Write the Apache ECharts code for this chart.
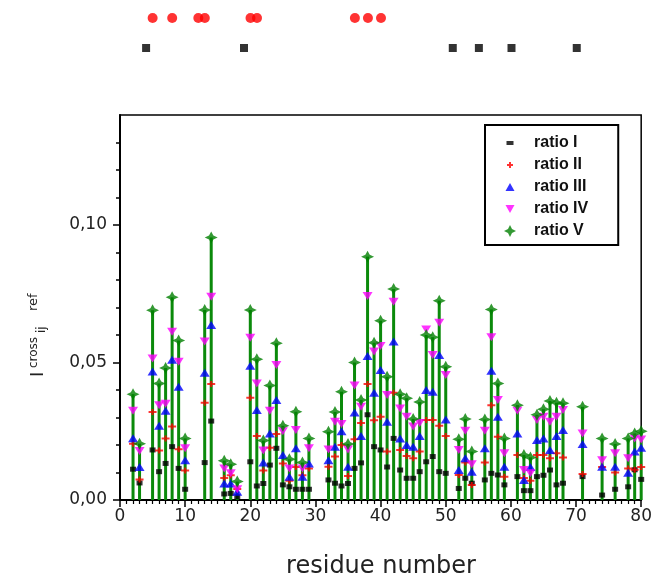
<!DOCTYPE html>
<html><head><meta charset="utf-8">
<script src="https://cdn.jsdelivr.net/npm/echarts@6/dist/echarts.min.js"></script>
<style>html,body{margin:0;padding:0;background:#fff}#c{width:655px;height:580px}</style>
</head><body><div id="c"></div>
<script>
const residues = [2,3,5,6,7,8,9,10,13,14,16,17,18,20,21,22,23,24,25,26,27,28,29,32,33,34,35,36,37,38,39,40,41,42,43,44,45,46,47,48,49,50,52,53,54,56,57,58,59,61,62,63,64,65,66,67,68,71,74,76,78,79,80];
const ratioI   = [.0112,.0062,.0182,.0103,.0133,.0194,.0115,.0039,.0136,.0287,.0022,.0024,.0012,.0139,.0051,.006,.0127,.0188,.0055,.0048,.0039,.0039,.0039,.0073,.0061,.0051,.006,.0115,.0135,.031,.0194,.0182,.012,.0224,.0109,.0079,.0079,.0103,.0139,.0158,.0103,.0097,.0042,.0079,.0061,.0073,.0097,.0091,.0055,.0085,.0034,.0034,.0085,.009,.0109,.0055,.0061,.0085,.0018,.0039,.0048,.011,.0075];
const ratioII  = [.0205,.0075,.032,.018,.0224,.0267,.0185,.0107,.0354,.0422,.008,.009,.004,.0372,.0233,.0107,.019,.024,.0133,.007,.012,.009,.0115,.0121,.0158,.02,.0087,.0221,.028,.0422,.029,.0303,.0176,.039,.0182,.016,.0152,.0176,.0291,.0291,.027,.0233,.0091,.0136,.0055,.0136,.0345,.023,.0085,.0164,.008,.007,.0164,.0164,.0152,.017,.0155,.0095,.012,.010,.0115,.011,.012];
const ratioIII = [.0225,.012,.0467,.027,.0325,.051,.0412,.0145,.0463,.0636,.006,.006,.003,.0488,.0327,.0136,.0242,.0364,.0164,.0085,.0188,.0085,.0133,.0145,.0194,.025,.0121,.0318,.0233,.0524,.039,.0473,.0285,.0576,.0224,.02,.0194,.0233,.04,.0394,.0527,.0293,.0109,.0152,.0103,.0188,.047,.0303,.0121,.0242,.0073,.012,.0218,.0224,.0182,.0233,.0255,.0204,.0121,.0121,.0099,.0176,.019];
const ratioIV  = [.0325,.0178,.0515,.0345,.035,.0612,.0503,.0188,.0576,.0739,.0115,.0097,.0039,.059,.0424,.018,.0325,.0491,.025,.0115,.0255,.0115,.0188,.0184,.0285,.0276,.0184,.0416,.0339,.0742,.054,.056,.0382,.0721,.0333,.0303,.0267,.028,.062,.0527,.0645,.0455,.0182,.0252,.013,.0252,.0592,.0364,.017,.0325,.0109,.0097,.0291,.0303,.0285,.0303,.0327,.0242,.0145,.017,.0152,.0224,.022];
const ratioV   = [.0385,.0205,.069,.0424,.048,.0737,.058,.0224,.0691,.0955,.0143,.013,.0067,.0691,.0512,.0216,.0416,.057,.027,.0148,.0321,.0136,.0224,.0248,.032,.0394,.0204,.05,.0364,.0885,.0572,.0652,.0448,.0767,.0385,.037,.0295,.0356,.060,.0592,.0725,.0485,.0221,.0295,.0176,.0293,.0693,.0424,.0224,.0345,.0164,.0155,.031,.033,.036,.0354,.0352,.0339,.0224,.0204,.0224,.0242,.025];
const topRedResidues = [5,8,12,13,20,21,36,38,40];
const topBlackResidues = [4,19,51,55,60,70];
const seriesNames = ['ratio I','ratio II','ratio III','ratio IV','ratio V'];
const yMajorTicks = [0, 0.05, 0.10];
const yMinorTicks = [0.01,0.02,0.03,0.04,0.06,0.07,0.08,0.09,0.11,0.12,0.13];

const pairs = arr => residues.map((r, i) => [r, arr[i]]);
const symI   = 'rect';
const symII  = 'path://M3,0 H5 V2 H8 V4 H5 V6 H3 V4 H0 V2 H3 Z';
const symIII = 'triangle';
const symIV  = 'path://M0,0 L10,0 L5,8 Z';
const symV   = 'path://M6,0 L8,4 L12,6 L8,8 L6,12 L4,8 L0,6 L4,4 Z';
const lgI   = 'path://M0,0 M14,12 M3.5,4 H10.5 V8 H3.5 Z';
const lgII  = 'path://M0,0 M14,12 M6,3 H8 V5 H10 V7 H8 V9 H6 V7 H4 V5 H6 Z';
const lgIII = 'path://M0,0 M14,12 M7,2 L11.5,10 L2.5,10 Z';
const lgIV  = 'path://M0,0 M14,12 M2.5,2 L11.5,2 L7,10 Z';
const lgV   = 'path://M0,0 M14,12 M7,0 L9,4 L13,6 L9,8 L7,12 L5,8 L1,6 L5,4 Z';

const chart = echarts.init(document.getElementById('c'), null, {renderer: 'canvas'});
const fmt = v => v.toFixed(2).replace('.', ',');
const rotText = (text, x, y, size) => ({
  type: 'text', x: x, y: y, rotation: Math.PI / 2,
  style: {text: text, textAlign: 'left', textVerticalAlign: 'middle', fill: '#222', fontSize: size, fontFamily: 'DejaVu Sans'}
});
chart.setOption({
  animation: false,
  backgroundColor: '#fff',
  grid: [
    {left: 120, right: 13, top: 115, bottom: 80, show: true, borderColor: '#000', borderWidth: 1.5, backgroundColor: 'transparent'},
    {left: 120, right: 13, top: 3, height: 60}
  ],
  xAxis: [
    {gridIndex: 0, type: 'value', min: 0, max: 80, interval: 10,
     axisLine: {show: true, onZero: false, lineStyle: {color: '#000', width: 2}},
     axisTick: {show: true, length: 7, lineStyle: {color: '#000', width: 1.5}},
     minorTick: {show: true, splitNumber: 10, length: 4, lineStyle: {color: '#000', width: 1.2}},
     axisLabel: {color: '#222', fontSize: 17, fontFamily: 'DejaVu Sans', margin: 8},
     splitLine: {show: false}},
    {gridIndex: 1, type: 'value', min: 0, max: 80, show: false}
  ],
  yAxis: [
    {gridIndex: 0, type: 'value', min: 0, max: 0.14,
     axisLine: {show: true, onZero: false, lineStyle: {color: '#000', width: 2}},
     axisTick: {show: true, length: 7, customValues: yMajorTicks, lineStyle: {color: '#000', width: 1.5}},
     axisLabel: {customValues: yMajorTicks, formatter: fmt, color: '#222', fontSize: 17, fontFamily: 'DejaVu Sans', margin: 13},
     splitLine: {show: false}},
    {gridIndex: 1, type: 'value', min: 0, max: 1, show: false},
    {gridIndex: 0, type: 'value', min: 0, max: 0.14, position: 'left',
     axisLine: {show: false},
     axisTick: {show: true, length: 4, customValues: yMinorTicks, lineStyle: {color: '#000', width: 1.5}},
     axisLabel: {show: false}, splitLine: {show: false}}
  ],
  legend: {
    orient: 'vertical', left: 485, top: 125, itemGap: 6, itemWidth: 14, itemHeight: 12,
    padding: [10, 30, 6, 18], borderColor: '#000', borderWidth: 2, selectedMode: false,
    textStyle: {fontSize: 16, fontWeight: 'bold', color: '#111', fontFamily: 'Liberation Sans', lineHeight: 12, padding: [0,0,0,12]},
    data: [
      {name: seriesNames[0], icon: lgI}, {name: seriesNames[1], icon: lgII},
      {name: seriesNames[2], icon: lgIII}, {name: seriesNames[3], icon: lgIV},
      {name: seriesNames[4], icon: lgV}
    ]
  },
  graphic: [
    rotText('I', 38, 377, 18),
    rotText('cross', 34, 368, 12),
    rotText('ij', 42, 333, 12),
    rotText('ref', 34, 311, 13),
    {type: 'text', x: 381, y: 567,
     style: {text: 'residue number', textAlign: 'center', textVerticalAlign: 'middle', fill: '#222',
       fontSize: 24, fontFamily: 'DejaVu Sans'}}
  ],
  series: [
    {name: 'stems', type: 'bar', xAxisIndex: 0, yAxisIndex: 0, data: pairs(ratioV), barWidth: 3,
     itemStyle: {color: '#0b8a0b'}, silent: true, z: 1},
    {name: seriesNames[0], type: 'scatter', data: pairs(ratioI), symbol: symI, symbolSize: [6, 5],
     itemStyle: {color: '#000'}, z: 2},
    {name: seriesNames[1], type: 'scatter', data: pairs(ratioII), symbol: symII, symbolSize: [8, 6],
     itemStyle: {color: '#ff0000'}, z: 3},
    {name: seriesNames[2], type: 'scatter', data: pairs(ratioIII), symbol: symIII, symbolSize: [10, 8],
     itemStyle: {color: '#0000ff'}, z: 4},
    {name: seriesNames[3], type: 'scatter', data: pairs(ratioIV), symbol: symIV, symbolSize: [10, 8],
     itemStyle: {color: '#ff00ff'}, z: 5},
    {name: seriesNames[4], type: 'scatter', data: pairs(ratioV), symbol: symV, symbolSize: [13, 12],
     itemStyle: {color: '#008000'}, z: 6},
    {name: 'topRed', type: 'scatter', xAxisIndex: 1, yAxisIndex: 1,
     data: topRedResidues.map(r => [r, 0.75]), symbol: 'circle', symbolSize: 10, itemStyle: {color: '#ff0000'}},
    {name: 'topBlack', type: 'scatter', xAxisIndex: 1, yAxisIndex: 1,
     data: topBlackResidues.map(r => [r, 0.25]), symbol: 'rect', symbolSize: 8, itemStyle: {color: '#000'}}
  ]
});
</script>
</body></html>
